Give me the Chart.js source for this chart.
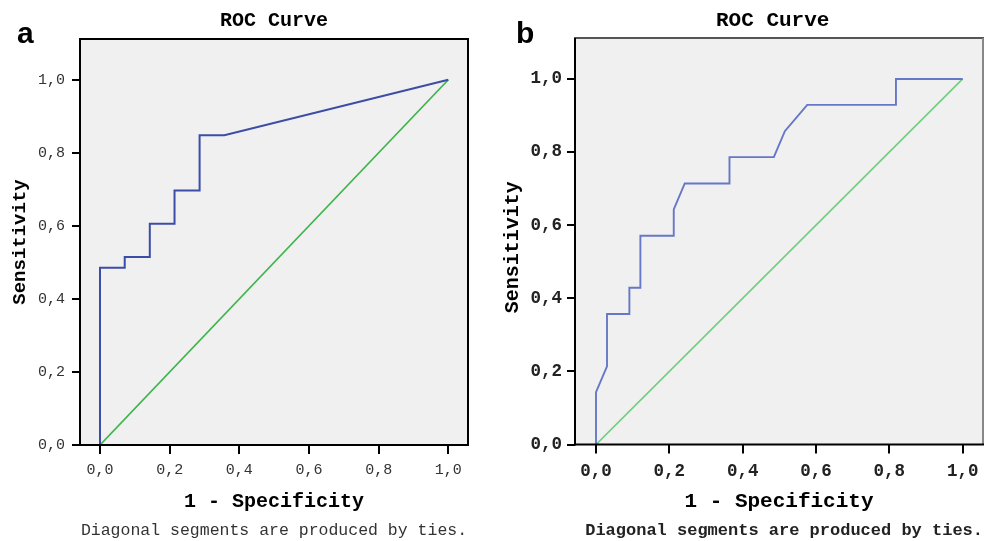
<!DOCTYPE html>
<html>
<head>
<meta charset="utf-8">
<script src="https://cdn.jsdelivr.net/npm/chart.js@4.4.0/dist/chart.umd.min.js"></script>
<style>
  html, body { margin: 0; padding: 0; background: #fff; width: 998px; height: 541px; overflow: hidden; }
  .panel { position: absolute; top: 0; height: 541px; }
  #wrapA { left: 0; width: 500px; }
  #wrapB { left: 500px; width: 498px; }
  .letter { position: absolute; font-family: "Liberation Sans", Arial, sans-serif; font-weight: bold;
            font-size: 30px; line-height: 30px; color: #000; }
</style>
</head>
<body>
<div class="panel" id="wrapA"><canvas id="rocA"></canvas></div>
<div class="panel" id="wrapB"><canvas id="rocB"></canvas></div>
<div class="letter" style="left:17px; top:18px;">a</div>
<div class="letter" style="left:516px; top:18px;">b</div>

<script>
// --- data ---
const tickValues = [0, 0.2, 0.4, 0.6, 0.8, 1.0];
const tickLabels = ["0,0", "0,2", "0,4", "0,6", "0,8", "1,0"];
const chanceX = [0, 1];
const chanceY = [0, 1];

// panel a : 1 - specificity / sensitivity
const fprA = [0, 0, 0.071, 0.071, 0.143, 0.143, 0.214, 0.214, 0.286, 0.286, 0.357, 1];
const tprA = [0, 0.485, 0.485, 0.515, 0.515, 0.606, 0.606, 0.697, 0.697, 0.848, 0.848, 1];

// panel b
const fprB = [0, 0, 0.030, 0.030, 0.091, 0.091, 0.121, 0.121, 0.212, 0.212, 0.242, 0.364, 0.364, 0.485, 0.515, 0.576, 0.818, 0.818, 1];
const tprB = [0, 0.143, 0.214, 0.357, 0.357, 0.429, 0.429, 0.571, 0.571, 0.643, 0.714, 0.714, 0.786, 0.786, 0.857, 0.929, 0.929, 1, 1];

const MONO = '"Liberation Mono", "Courier New", monospace';

function pts(xs, ys) {
  return xs.map((x, i) => ({ x: x, y: ys[i] }));
}

// grey plot box + frame
const framePlugin = {
  id: "frame",
  beforeDraw(chart, args, o) {
    const a = chart.chartArea, c = chart.ctx;
    c.save();
    c.fillStyle = o.bg;
    c.fillRect(a.left, a.top, a.width, a.height);
    c.restore();
  },
  afterDatasetsDraw(chart, args, o) {
    const a = chart.chartArea, c = chart.ctx;
    c.save();
    c.lineWidth = 2;
    const seg = (col, x1, y1, x2, y2) => {
      c.strokeStyle = col;
      c.beginPath(); c.moveTo(x1, y1); c.lineTo(x2, y2); c.stroke();
    };
    seg(o.top, a.left - 1, a.top, a.right + 1, a.top);
    seg(o.right, a.right, a.top, a.right, a.bottom);
    seg(o.left, a.left, a.top, a.left, a.bottom + 1);
    seg("#000", a.left - 1, a.bottom, a.right + 1, a.bottom);
    c.restore();
  }
};

function makeRoc(id, o) {
  const setTicks = s => { s.ticks = tickValues.map(v => ({ value: v })); };
  const label = v => tickLabels[tickValues.indexOf(v)];
  return new Chart(document.getElementById(id), {
    type: "scatter",
    data: {
      datasets: [
        { data: pts(o.fpr, o.tpr), showLine: true, borderColor: o.blue, borderWidth: o.blueWidth,
          pointRadius: 0, tension: 0, fill: false },
        { data: pts(chanceX, chanceY), showLine: true, borderColor: o.green, borderWidth: 1.7,
          pointRadius: 0, tension: 0, fill: false }
      ]
    },
    options: {
      responsive: true,
      maintainAspectRatio: false,
      animation: false,
      layout: { padding: { left: 0, right: o.padRight, top: 0, bottom: 0 } },
      plugins: {
        legend: { display: false },
        tooltip: { enabled: false },
        title: {
          display: true, fullSize: false, text: o.title, color: "#000",
          font: { family: MONO, size: o.titleSize, weight: "bold", lineHeight: 1.2 },
          padding: { top: o.titlePadTop, bottom: o.titlePadBottom }
        },
        subtitle: {
          display: true, fullSize: false, position: "bottom", text: o.note, color: o.textColor,
          font: { family: MONO, size: o.noteSize, weight: o.noteWeight, lineHeight: 1.2 },
          padding: { top: 2, bottom: 0 }
        },
        frame: o.frame
      },
      scales: {
        x: {
          type: "linear", min: o.xMin, max: o.xMax,
          afterBuildTicks: setTicks,
          afterFit: s => { s.height = o.xAxisHeight; },
          ticks: { callback: label, autoSkip: false, maxRotation: 0, color: o.textColor,
                   padding: o.xTickPad, font: { family: MONO, size: o.tickSize, weight: o.tickWeight } },
          grid: { drawOnChartArea: false, drawTicks: true, tickLength: 9, color: "#000", lineWidth: 2 },
          border: { display: false },
          title: { display: true, text: "1 - Specificity", color: "#000",
                   font: { family: MONO, size: o.axisSize, weight: "bold", lineHeight: 1.2 },
                   padding: { top: 0, bottom: o.xTitlePadBottom } }
        },
        y: {
          type: "linear", min: 0, max: o.yMax,
          afterBuildTicks: setTicks,
          afterFit: s => { s.width = o.yAxisWidth; },
          ticks: { callback: label, autoSkip: false, color: o.textColor,
                   padding: o.yTickPad, font: { family: MONO, size: o.tickSize, weight: o.tickWeight } },
          grid: { drawOnChartArea: false, drawTicks: true, tickLength: 8, color: "#000", lineWidth: 2 },
          border: { display: false },
          title: { display: true, text: o.yTitle, color: "#000",
                   font: { family: MONO, size: o.axisSize - 1, weight: "bold", lineHeight: 1.2 },
                   padding: { top: o.yTitlePadTop, bottom: 0 } }
        }
      }
    },
    plugins: [framePlugin]
  });
}

// --- panel a ---
makeRoc("rocA", {
  fpr: fprA, tpr: tprA,
  blue: "#3b4da6", green: "#3db54a", blueWidth: 2,
  title: "ROC Curve", titleSize: 20, titlePadTop: 9, titlePadBottom: 6,
  note: "Diagonal segments are produced by ties.", noteSize: 16.5, noteWeight: "normal",
  yTitle: "Sensitivity",
  textColor: "#333", tickSize: 15, tickWeight: "normal", axisSize: 20,
  xMin: -0.0574, xMax: 1.0566, yMax: 1.1116,
  padRight: 32, yAxisWidth: 80, xAxisHeight: 74.2,
  xTickPad: 7, yTickPad: 7, xTitlePadBottom: 5.7, yTitlePadTop: 8.6,
  frame: { bg: "#f0f0f0", top: "#000", right: "#000", left: "#000" }
});

// --- panel b ---
makeRoc("rocB", {
  fpr: fprB, tpr: tprB,
  blue: "#6577c6", green: "#6fcf7f", blueWidth: 1.9,
  title: "ROC Curve ", titleSize: 21, titlePadTop: 8, titlePadBottom: 4.8,
  note: " Diagonal segments are produced by ties.", noteSize: 17, noteWeight: "bold",
  yTitle: "Sensitivity ",
  textColor: "#222", tickSize: 17.5, tickWeight: "bold", axisSize: 21,
  xMin: -0.0573, xMax: 1.0554, yMax: 1.112,
  padRight: 15, yAxisWidth: 75, xAxisHeight: 74.1,
  xTickPad: 8, yTickPad: 5, xTitlePadBottom: 4, yTitlePadTop: 1,
  frame: { bg: "#f0f0f0", top: "#555", right: "#888", left: "#000" }
});
</script>
</body>
</html>
